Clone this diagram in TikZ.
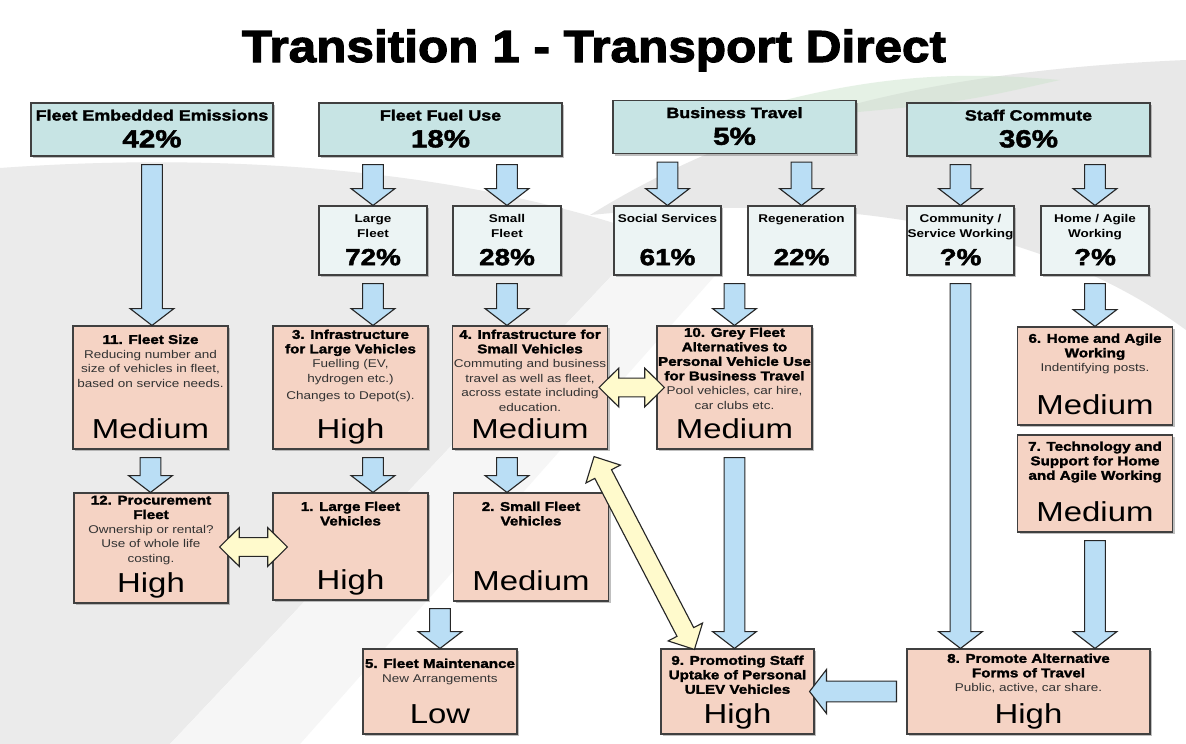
\documentclass[tikz,border=0pt]{standalone}
\usepackage{fontspec}
\setmainfont{Liberation Sans}[FakeStretch=1.2]
\newfontfamily\heavyfont{Liberation Sans Bold}[FakeStretch=1.2,FakeBold=2]
\newfontfamily\titlefont{Liberation Sans Bold}[FakeStretch=1.1,FakeBold=2.5]
\usetikzlibrary{calc,shadows}

\definecolor{headteal}{RGB}{199,228,228}
\definecolor{subpale}{RGB}{236,244,244}
\definecolor{priopeach}{RGB}{245,211,196}
\definecolor{flowblue}{RGB}{186,222,245}
\definecolor{linkyellow}{RGB}{255,250,204}
\definecolor{bodygrey}{RGB}{50,50,50}

\newlength\pxl
\setlength\pxl{0.025cm}

% arrow sizes
\newcommand{\flowshaft}{7.4pt}
\newcommand{\flowwing}{15.6pt}
\newcommand{\flowhead}{12pt}
\newcommand{\linkshaft}{6.7pt}
\newcommand{\linkwing}{13.8pt}
\newcommand{\linkhead}{14pt}

% box texts
\newcommand{\headtext}[3]{\parbox[c][53\pxl][t]{#1\pxl}{\centering\vspace*{4.8pt}%
  {\heavyfont\fontsize{10.6}{12}\selectfont #2\par}\vfill
  {\heavyfont\fontsize{17.5}{17.5}\selectfont\smash{#3}\par}\vspace*{6.2pt}}}
\newcommand{\subtext}[3]{\parbox[c][69\pxl][t]{#1\pxl}{\centering\vspace*{6.2pt}%
  {\bfseries\fontsize{8}{10.6}\selectfont #2\par}\vfill
  {\heavyfont\fontsize{16.5}{16.5}\selectfont\smash{#3}\par}\vspace*{7pt}}}
\newcommand{\priotext}[6][3]{\parbox[c][#3\pxl][t]{#2\pxl}{\centering\vspace*{#1pt}%
  {\heavyfont\fontsize{9}{10.3}\selectfont #4\par}%
  {\fontsize{8}{10.3}\selectfont\color{bodygrey}#5\par}\vfill
  {\fontsize{19.5}{19.5}\selectfont\smash{#6}\par}\vspace*{7.8pt}}}

% block arrows
\newcommand{\blockarrow}[2]{%
  \coordinate (ba-h) at ($(#2)!\flowhead!(#1)$);
  \filldraw[flow] ($(#1)!\flowshaft!90:(#2)$) -- ($(ba-h)!\flowshaft!90:(#2)$)
    -- ($(ba-h)!\flowwing!90:(#2)$) -- (#2) -- ($(ba-h)!\flowwing!-90:(#2)$)
    -- ($(ba-h)!\flowshaft!-90:(#2)$) -- ($(#1)!\flowshaft!-90:(#2)$) -- cycle;}
\newcommand{\downflow}[3]{% x of #1, from #2 down to #3
  \coordinate (#2-#3-s) at ($(#1.center |- #2.south)+(0,8)$);
  \coordinate (#2-#3-t) at (#1.center |- #3.north);
  \blockarrow{#2-#3-s}{#2-#3-t}}
\newcommand{\linkarrow}[2]{%
  \coordinate (la-a) at ($(#1)!\linkhead!(#2)$);
  \coordinate (la-b) at ($(#2)!\linkhead!(#1)$);
  \filldraw[link] (#1) -- ($(la-a)!\linkwing!90:(#2)$) -- ($(la-a)!\linkshaft!90:(#2)$)
    -- ($(la-b)!\linkshaft!90:(#2)$) -- ($(la-b)!\linkwing!90:(#2)$) -- (#2)
    -- ($(la-b)!\linkwing!-90:(#2)$) -- ($(la-b)!\linkshaft!-90:(#2)$)
    -- ($(la-a)!\linkshaft!-90:(#2)$) -- ($(la-a)!\linkwing!-90:(#2)$) -- cycle;}

\tikzset{
  headbox/.style={draw=black!75, line width=0.8pt, fill=headteal, inner sep=0pt,
    drop shadow={shadow xshift=1.6pt, shadow yshift=-1.6pt, opacity=0.5}},
  subbox/.style={headbox, fill=subpale},
  priobox/.style={headbox, fill=priopeach},
  flow/.style={draw=black!85, line width=0.8pt, fill=flowblue, line join=miter},
  link/.style={draw=black!85, line width=0.8pt, fill=linkyellow, line join=miter}
}

\begin{document}
\begin{tikzpicture}[x=0.025cm, y=-0.025cm]
  \useasboundingbox (0,0) rectangle (1186,744);
  % background
  \fill[white] (0,0) rectangle (1186,744);
  \fill[gray!16] (0,168) .. controls (250,150) and (480,175) .. (650,235) -- (170,744) -- (0,744) -- cycle;
  \fill[gray!7] (650,235) .. controls (690,250) .. (720,270) -- (300,744) -- (170,744) -- cycle;
  \fill[gray!18] (590,215) .. controls (760,110) and (950,70) .. (1186,60) -- (1186,330) .. controls (1050,230) and (850,190) .. (590,215) -- cycle;
  \fill[green!30!gray!30, opacity=0.5] (700,125) .. controls (850,75) and (950,70) .. (1060,80) .. controls (950,105) .. (700,125) -- cycle;

  % title
  \node[font=\titlefont\fontsize{32}{36}\selectfont, anchor=base] (title) at (594,62) {Transition 1 - Transport Direct};

  % emission sources
  \node[headbox] (fee) at (152,129.5) {\headtext{242}{Fleet Embedded Emissions}{42\%}};
  \node[headbox] (ffu) at (440.5,129.5) {\headtext{243}{Fleet Fuel Use}{18\%}};
  \node[headbox] (bt) at (734.5,127) {\headtext{243}{Business Travel}{5\%}};
  \node[headbox] (sc) at (1028.5,129.5) {\headtext{243}{Staff Commute}{36\%}};

  % splits
  \node[subbox] (lf) at (373,240.5) {\subtext{108}{Large\\Fleet}{72\%}};
  \node[subbox] (sf) at (507,240.5) {\subtext{108}{Small\\Fleet}{28\%}};
  \node[subbox] (ss) at (667.5,240.5) {\subtext{107}{Social Services}{61\%}};
  \node[subbox] (rg) at (801.5,240.5) {\subtext{107}{Regeneration}{22\%}};
  \node[subbox] (cs) at (960.5,240.5) {\subtext{107}{Community /\\Service Working}{?\%}};
  \node[subbox] (ha) at (1095,240.5) {\subtext{108}{Home / Agile\\Working}{?\%}};

  % actions
  \node[priobox] (fs11) at (150.5,387.5) {\priotext[6.2]{155}{123}{11. Fleet Size}{Reducing number and\\size of vehicles in fleet,\\based on service needs.}{Medium}};
  \node[priobox] (il3) at (350.5,387.5) {\priotext[2.6]{155}{123}{3. Infrastructure\\for Large Vehicles}{Fuelling (EV,\\hydrogen etc.)\\[2pt]Changes to Depot(s).}{High}};
  \node[priobox] (is4) at (530,387.5) {\priotext[2.6]{155}{123}{4. Infrastructure for\\Small Vehicles}{Commuting and business\\travel as well as fleet,\\across estate including\\education.}{Medium}};
  \node[priobox] (gf10) at (734.5,387.5) {\priotext[1.2]{155}{123}{10. Grey Fleet\\Alternatives to\\Personal Vehicle Use\\for Business Travel}{Pool vehicles, car hire,\\car clubs etc.}{Medium}};
  \node[priobox] (ha6) at (1095,376) {\priotext[4.7]{155}{98}{6. Home and Agile\\Working}{Indentifying posts.}{Medium}};
  \node[priobox] (ts7) at (1095,483.5) {\priotext[4.7]{155}{97}{7. Technology and\\Support for Home\\and Agile Working}{}{Medium}};
  \node[priobox] (pf12) at (151,548) {\priotext[1.9]{154}{110}{12. Procurement\\Fleet}{Ownership or rental?\\Use of whole life\\costing.}{High}};
  \node[priobox] (lv1) at (350.5,546.5) {\priotext[6.2]{155}{107}{1. Large Fleet\\Vehicles}{}{High}};
  \node[priobox] (sv2) at (531,547) {\priotext[6.2]{155}{108}{2. Small Fleet\\Vehicles}{}{Medium}};
  \node[priobox] (fm5) at (440,691.5) {\priotext[6.9]{154}{85}{5. Fleet Maintenance}{New Arrangements}{Low}};
  \node[priobox] (ps9) at (737.5,691.5) {\priotext[4.7]{153}{85}{9. Promoting Staff\\Uptake of Personal\\ULEV Vehicles}{}{High}};
  \node[priobox] (pa8) at (1028.5,691.5) {\priotext[3.3]{243}{85}{8. Promote Alternative\\Forms of Travel}{Public, active, car share.}{High}};

  % flows
  \downflow{lf}{ffu}{lf}
  \downflow{sf}{ffu}{sf}
  \downflow{ss}{bt}{ss}
  \downflow{rg}{bt}{rg}
  \downflow{cs}{sc}{cs}
  \downflow{ha}{sc}{ha}
  \downflow{fee}{fee}{fs11}
  \downflow{lf}{lf}{il3}
  \downflow{sf}{sf}{is4}
  \downflow{gf10}{ss}{gf10}
  \downflow{ha}{ha}{ha6}
  \downflow{cs}{cs}{pa8}
  \downflow{fs11}{fs11}{pf12}
  \downflow{lf}{il3}{lv1}
  \downflow{sf}{is4}{sv2}
  \downflow{fm5}{lv1}{fm5}
  \downflow{gf10}{gf10}{ps9}
  \downflow{ts7}{ts7}{pa8}
  \coordinate (pa8-ps9-s) at ($(pa8.west)+(-10,0)$);
  \coordinate (pa8-ps9-t) at ($(ps9.east)+(-5,0)$);
  \blockarrow{pa8-ps9-s}{pa8-ps9-t}

  % links
  \coordinate (pf12-lv1-a) at ($(pf12.east)+(-9,-1)$);
  \coordinate (pf12-lv1-b) at ($(lv1.west)+(15,0.5)$);
  \linkarrow{pf12-lv1-a}{pf12-lv1-b}
  \coordinate (is4-gf10-a) at ($(is4.east)+(-9,0)$);
  \coordinate (is4-gf10-b) at ($(gf10.west)+(8,0)$);
  \linkarrow{is4-gf10-a}{is4-gf10-b}
  \coordinate (is4-ps9-a) at ($(is4.south east)+(-14,7)$);
  \coordinate (is4-ps9-b) at ($(ps9.north west)+(34,1)$);
  \linkarrow{is4-ps9-a}{is4-ps9-b}
\end{tikzpicture}
\end{document}
